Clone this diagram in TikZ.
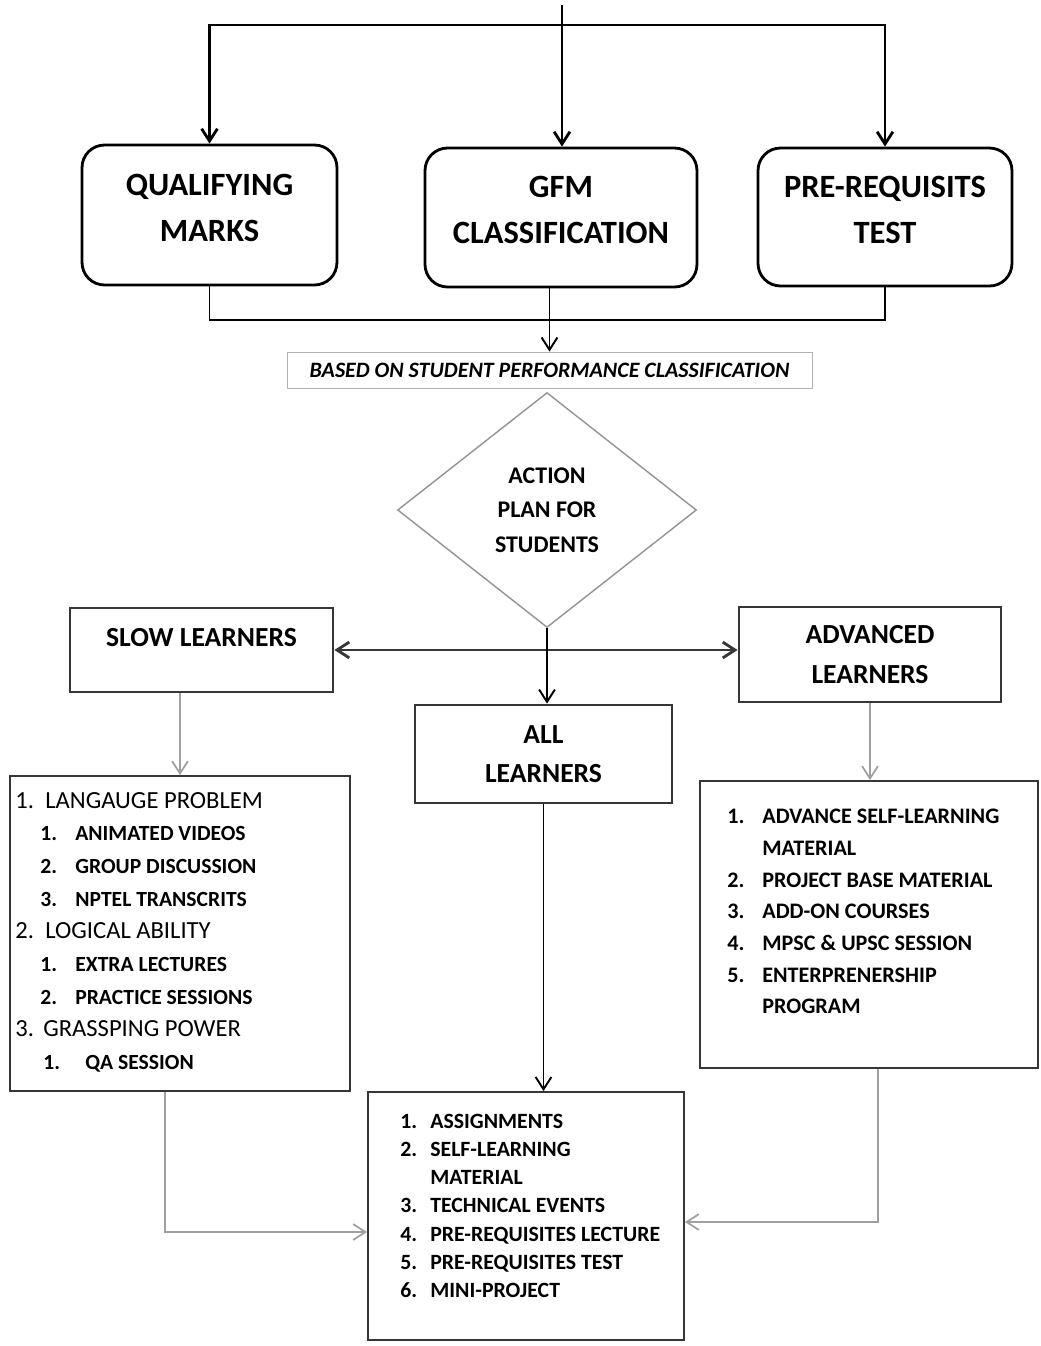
\documentclass[tikz,border=0pt]{standalone}
\usepackage{fontspec}
\setmainfont{Carlito}
\usetikzlibrary{positioning,shapes.geometric,arrows.meta}
\definecolor{boxgray}{HTML}{363636}
\definecolor{linegray}{HTML}{A0A0A0}
\tikzstyle{roundbox}=[draw,line width=1.6pt,rounded corners=0.45cm,align=center,text depth=0.3cm,font=\fontsize{18.5}{26}\selectfont\bfseries]
\tikzstyle{learnfont}=[font=\fontsize{15.7}{22.5}\selectfont\bfseries,align=center]
\tikzstyle{learnbox}=[draw=boxgray,line width=1.6pt,learnfont]
\tikzstyle{basedbox}=[draw=gray!60,line width=0.5pt,font=\fontsize{12.5}{15}\selectfont\bfseries\itshape]
\tikzstyle{plan}=[draw=gray!85,line width=0.8pt,diamond,aspect=1.27,inner sep=0pt,align=center,font=\fontsize{13.6}{19.6}\selectfont\bfseries]
\tikzstyle{listbox}=[draw=boxgray,line width=1.1pt]
\tikzstyle{listtext}=[anchor=north west,inner sep=0pt,align=left]
\tikzstyle{blackline}=[->,line width=1.6pt]
\tikzstyle{thinline}=[->,line width=1.1pt]
\tikzstyle{grayarrow}=[->,draw=linegray,line width=1pt]
\newcommand{\numbox}[2]{\makebox[#1][l]{#2}}

\begin{document}
\begin{tikzpicture}[x=0.02cm,y=-0.02cm,
      >={Straight Barb[length=7pt,width=9pt]}
      ]
      \useasboundingbox (0,0) rectangle (1041,1346);

      % first row
      \node[roundbox,minimum width=5.1cm,minimum height=2.8cm] (qm) at (209.5,215) {QUALIFYING\\MARKS};
      \node[roundbox,minimum width=5.44cm,minimum height=2.78cm] (gfm) at (561,217.5) {GFM\\CLASSIFICATION};
      \node[roundbox,minimum width=5.08cm,minimum height=2.76cm] (prt) at (885,217) {PRE-REQUISITS\\TEST};

      \coordinate (src) at (562,5);
      \coordinate (split) at (562,25);
      \draw[blackline] (src) -- (src |- gfm.north);
      \draw[blackline] (split) -| (qm.north);
      \draw[blackline] (split) -| (prt.north);

      % merge into classification
      \coordinate (merge) at (548,320);
      \draw[line width=1.1pt] (qm.south) |- (merge) -| (prt.south);
      \node[basedbox,minimum width=10.5cm,minimum height=0.72cm] (based) at (549.5,370) {BASED ON STUDENT PERFORMANCE CLASSIFICATION};
      \draw[thinline] (gfm.south -| based.north) -- (based.north);

      \node[plan,minimum width=5.98cm,minimum height=4.7cm] (plan) at (547,510) {ACTION\\PLAN FOR\\STUDENTS};

      % learners
      \node[learnbox,minimum width=5.26cm,minimum height=1.68cm] (slow) at (201.5,650) {};
      \node[learnfont] (slowlbl) at (201.5,638) {SLOW LEARNERS};
      \node[learnbox,minimum width=5.24cm,minimum height=1.9cm] (adv) at (870,654.5) {ADVANCED\\LEARNERS};
      \node[learnbox,minimum width=5.14cm,minimum height=1.96cm] (all) at (543.5,754) {ALL\\LEARNERS};

      \draw[<->,draw=boxgray,line width=1.6pt] (slow.east) -- (adv.west |- slow.east);
      \draw[thinline] (plan.south) -- (plan.south |- all.north);

      % lists
      \node[listbox,minimum width=6.8cm,minimum height=6.3cm] (slowlist) at (180,933.5) {};
      \node[listbox,minimum width=6.76cm,minimum height=5.74cm] (advlist) at (869,924.5) {};
      \node[listbox,minimum width=6.32cm,minimum height=4.96cm] (common) at (526,1216) {};

      \node[listtext,font=\fontsize{12.3}{18.57}\selectfont\bfseries] (slowitems) at (15,792) {%
        {\mdseries\fontsize{14}{18.57}\selectfont\numbox{0.6cm}{1.}LANGAUGE PROBLEM}\\
        \hspace*{0.5cm}\numbox{0.7cm}{1.}ANIMATED VIDEOS\\
        \hspace*{0.5cm}\numbox{0.7cm}{2.}GROUP DISCUSSION\\
        \hspace*{0.5cm}\numbox{0.7cm}{3.}NPTEL TRANSCRITS\\
        {\mdseries\fontsize{14}{18.57}\selectfont\numbox{0.6cm}{2.}LOGICAL ABILITY}\\
        \hspace*{0.5cm}\numbox{0.7cm}{1.}EXTRA LECTURES\\
        \hspace*{0.5cm}\numbox{0.7cm}{2.}PRACTICE SESSIONS\\
        {\mdseries\fontsize{14}{18.57}\selectfont\numbox{0.56cm}{3.}GRASSPING POWER}\\
        \hspace*{0.56cm}\numbox{0.84cm}{1.}QA SESSION};

      \node[listtext,font=\fontsize{12.6}{18}\selectfont\bfseries] (advitems) at (727,809) {%
        \numbox{0.7cm}{1.}ADVANCE SELF-LEARNING\\
        \hspace*{0.7cm}MATERIAL\\
        \numbox{0.7cm}{2.}PROJECT BASE MATERIAL\\
        \numbox{0.7cm}{3.}ADD-ON COURSES\\
        \numbox{0.7cm}{4.}MPSC \& UPSC SESSION\\
        \numbox{0.7cm}{5.}ENTERPRENERSHIP\\
        \hspace*{0.7cm}PROGRAM};

      \node[listtext,font=\fontsize{12.4}{16}\selectfont\bfseries] (commonitems) at (400,1114) {%
        \numbox{0.6cm}{1.}ASSIGNMENTS\\
        \numbox{0.6cm}{2.}SELF-LEARNING\\
        \hspace*{0.6cm}MATERIAL\\
        \numbox{0.6cm}{3.}TECHNICAL EVENTS\\
        \numbox{0.6cm}{4.}PRE-REQUISITES LECTURE\\
        \numbox{0.6cm}{5.}PRE-REQUISITES TEST\\
        \numbox{0.6cm}{6.}MINI-PROJECT};

      % connectors to the lists
      \draw[grayarrow] (slowlist.north |- slow.south) -- (slowlist.north);
      \draw[grayarrow] (adv.south) -- (adv.south |- advlist.north);
      \draw[thinline] (all.south) -- (all.south |- common.north);
      \coordinate (sjoin) at (165,1232);
      \coordinate (ajoin) at (878,1222);
      \draw[grayarrow] (slowlist.south -| sjoin) |- (common.west |- sjoin);
      \draw[grayarrow] (advlist.south -| ajoin) |- (common.east |- ajoin);
\end{tikzpicture}
\end{document}
